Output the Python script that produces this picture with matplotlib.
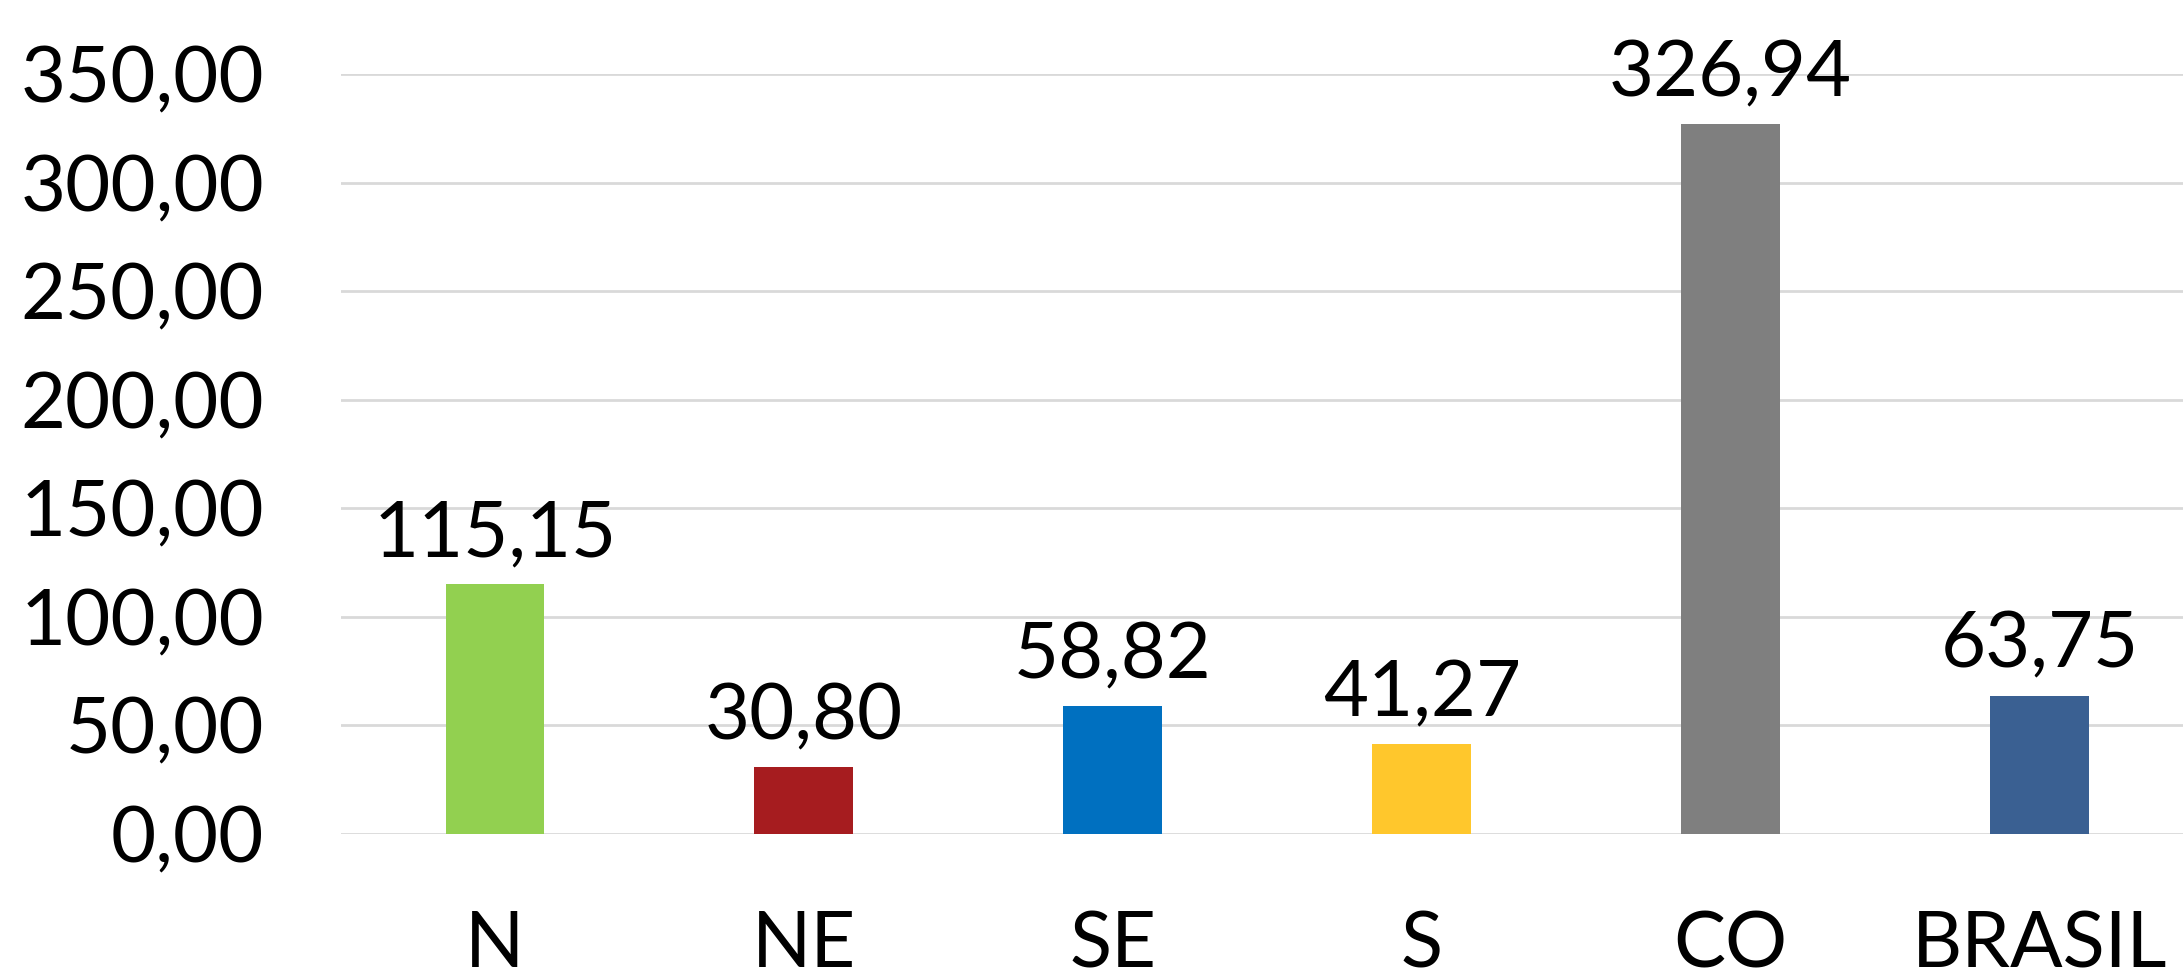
import matplotlib
matplotlib.use("Agg")
import matplotlib.pyplot as plt

categories = ["N", "NE", "SE", "S", "CO", "BRASIL"]
values = [115.15, 30.80, 58.82, 41.27, 326.94, 63.75]
colors = ["#92D050", "#A61C1F", "#0070C0", "#FFC72C", "#7F7F7F", "#3A6092"]
yticks = [0, 50, 100, 150, 200, 250, 300, 350]

plt.rcParams['font.family'] = ['Lato', 'DejaVu Sans']

fig = plt.figure(figsize=(21.83, 9.80), dpi=100)
ax = fig.add_axes([0.156, 0.149, 0.849, 0.7755])

x = list(range(len(categories)))
bars = ax.bar(x, values, width=0.32, color=colors, zorder=3)
ax.set_xlim(-0.5, len(categories) - 0.5)
ax.set_ylim(0, 350)
ax.set_yticks(yticks)
ax.set_yticklabels([f"{v:.2f}".replace('.', ',') for v in yticks], fontsize=56)
ax.set_xticks(x)
ax.set_xticklabels(categories, fontsize=56)
ax.tick_params(axis='both', length=0)
ax.tick_params(axis='y', pad=55)
ax.tick_params(axis='x', pad=55)
for s in ax.spines.values():
    s.set_visible(False)
ax.grid(axis='y', color='#D9D9D9', linewidth=2, zorder=0)
ax.set_axisbelow(True)

for xi, v in zip(x, values):
    ax.annotate(f"{v:.2f}".replace('.', ','), (xi, v), xytext=(0, 10),
                textcoords='offset points', ha='center', va='bottom', fontsize=56)

fig.savefig("out.png", dpi=100)
